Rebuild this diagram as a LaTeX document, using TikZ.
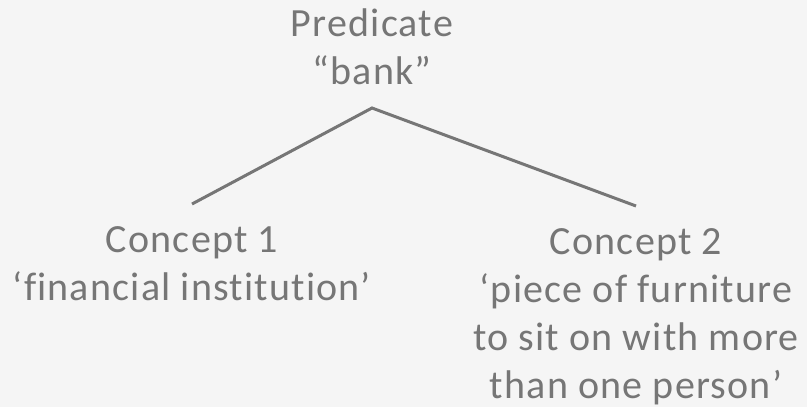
\documentclass[tikz,border=0pt]{standalone}
\usepackage{fontspec}
\setmainfont[Ligatures=NoCommon, LetterSpace=3]{Carlito}
\usetikzlibrary{positioning}
\definecolor{txtgray}{HTML}{767676}
\definecolor{bggray}{HTML}{F5F5F5}

\begin{document}
\begin{tikzpicture}[
        x=0.75pt, y=-0.75pt,
        label/.style={align=center, text=txtgray, inner xsep=0pt, inner ysep=17pt,
            font=\fontsize{30}{36}\selectfont},
        link/.style={draw=txtgray, line width=2.25pt}
    ]
        % Background
        \fill[bggray] (0,0) rectangle (807,407);
        \useasboundingbox (0,0) rectangle (807,407);

        % Predicate and its concepts
        \node[label, anchor=south] (pred) at (372,108) {Predicate\\``bank''};
        \node[label, anchor=north] (c1) at (192,204) {Concept 1\\`financial institution'};
        \node[label, anchor=north] (c2) at (636,206) {Concept 2\\`piece of furniture\\to sit on with more\\than one person'};

        \draw[link] (c1.north) -- (pred.south) -- (c2.north);
    \end{tikzpicture}
\end{document}
